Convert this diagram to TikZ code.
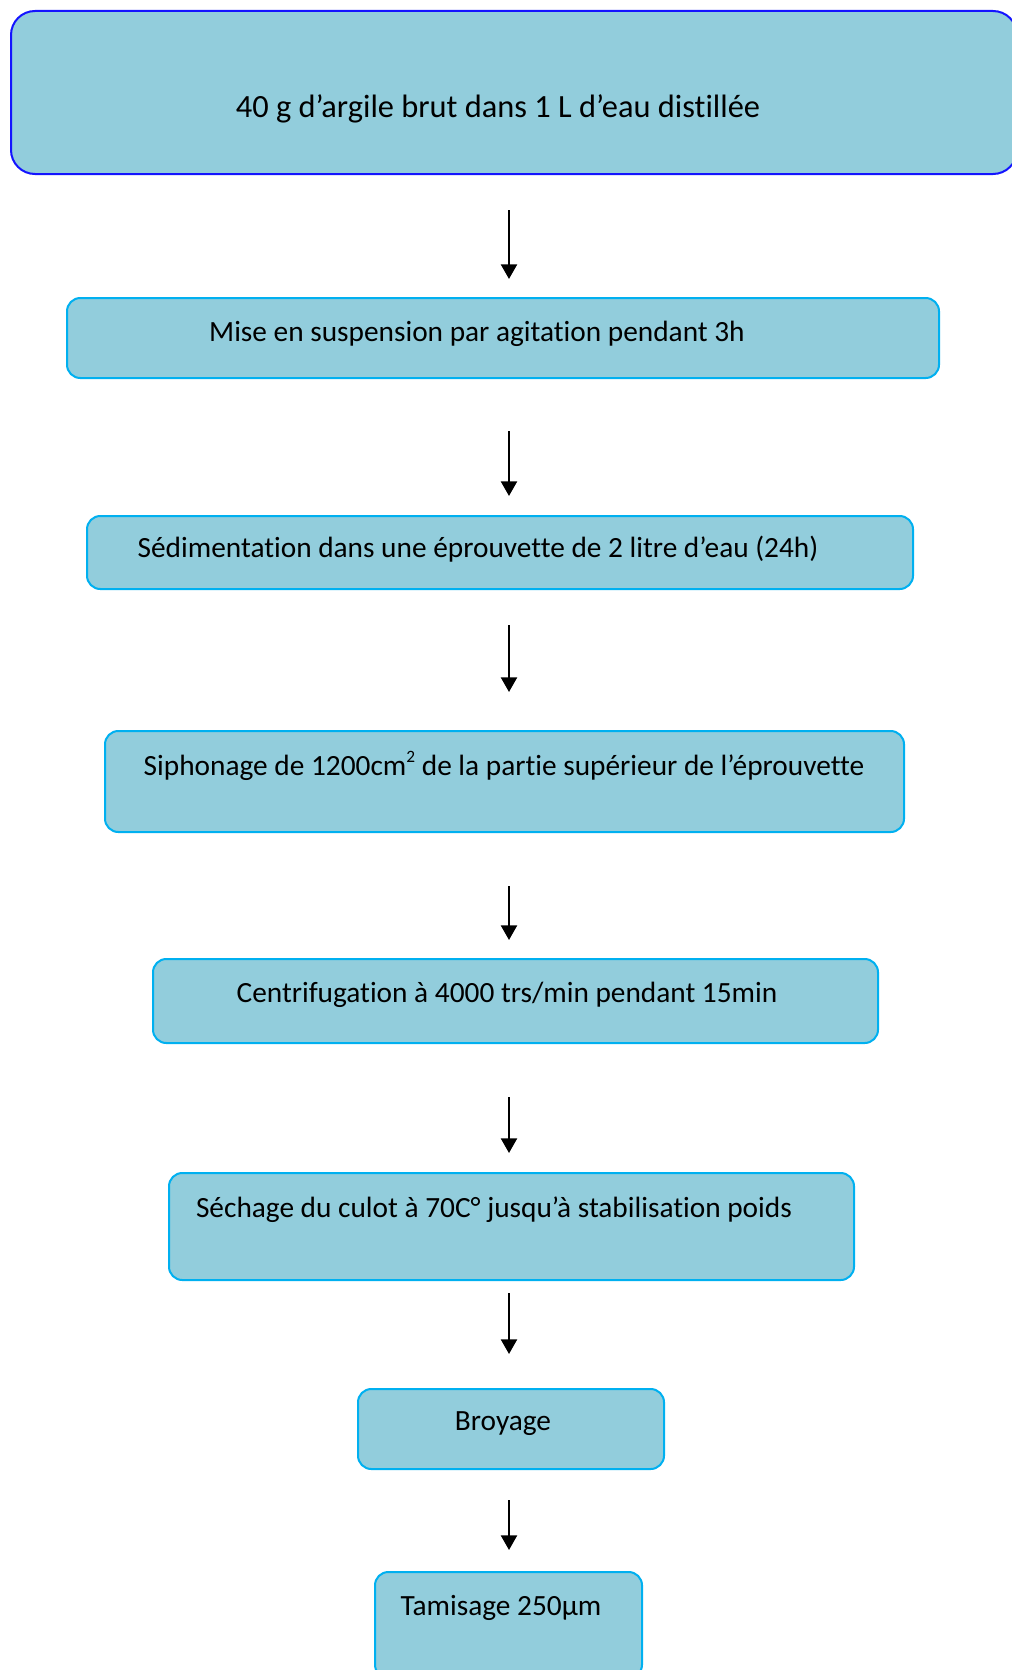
\documentclass[tikz,border=0pt]{standalone}
\usepackage{fontspec}
\setmainfont[Ligatures=NoCommon]{Carlito}
\usetikzlibrary{arrows.meta}
\definecolor{boxfill}{RGB}{146,205,220}
\definecolor{boxline}{RGB}{0,176,240}
\definecolor{topline}{RGB}{20,20,255}
\tikzset{
  stepbox/.style={draw=boxline, line width=1.5pt, fill=boxfill, rounded corners=10pt, inner sep=0pt, outer sep=0pt},
  topbox/.style={stepbox, draw=topline, rounded corners=18pt},
  lbl/.style={inner sep=0pt, font=\fontsize{22}{26}\selectfont},
  arr/.style={line width=1.75pt, -{Triangle[width=12pt,length=11pt]}}
}
\begin{document}
\begin{tikzpicture}[x=0.75pt,y=-0.75pt]
\useasboundingbox (0,0) rectangle (1012,1670);
\clip (0,0) rectangle (1012,1670);
\coordinate (ax) at (509,0);
\node[topbox, minimum width=754.5pt, minimum height=122.25pt] (b1) at (514,92.5) {};
\node[stepbox, minimum width=654pt, minimum height=60pt] (b2) at (503,338) {};
\node[stepbox, minimum width=619.5pt, minimum height=54.75pt] (b3) at (500,552.5) {};
\node[stepbox, minimum width=599.25pt, minimum height=75.75pt] (b4) at (504.5,781.5) {};
\node[stepbox, minimum width=543.75pt, minimum height=63pt] (b5) at (515.5,1001) {};
\node[stepbox, minimum width=513.75pt, minimum height=80.25pt] (b6) at (511.5,1226.5) {};
\node[stepbox, minimum width=229.5pt, minimum height=60pt] (b7) at (511,1429) {};
\node[stepbox, minimum width=200.25pt, minimum height=79.5pt] (b8) at (508.5,1625) {};

\node[lbl, font=\fontsize{24.3}{28}\selectfont] (t1) at (498,109) {40 g d’argile brut dans 1 L d’eau distillée};
\node[lbl] (t2) at (477,334) {Mise en suspension par agitation pendant 3h};
\node[lbl] (t3) at (478,549) {Sédimentation dans une éprouvette de 2 litre d’eau (24h)};
\node[lbl] (t4) at (504,766) {Siphonage de 1200cm\raisebox{0.9ex}{\fontsize{13}{13}\selectfont 2} de la partie supérieur de l’éprouvette};
\node[lbl] (t5) at (507,995) {Centrifugation à 4000 trs/min pendant 15min};
\node[lbl] (t6) at (494,1210) {Séchage du culot à 70C° jusqu’à stabilisation poids};
\node[lbl] (t7) at (503,1424) {Broyage};
\node[lbl] (t8) at (501,1608) {Tamisage 250µm};

\draw[arr, shorten <=27pt, shorten >=14.25pt] (b1.south -| ax) -- (b2.north -| ax);
\draw[arr, shorten <=39.75pt, shorten >=15pt] (b2.south -| ax) -- (b3.north -| ax);
\draw[arr, shorten <=27pt, shorten >=29.25pt] (b3.south -| ax) -- (b4.north -| ax);
\draw[arr, shorten <=40.5pt, shorten >=14.25pt] (b4.south -| ax) -- (b5.north -| ax);
\draw[arr, shorten <=40.5pt, shorten >=15pt] (b5.south -| ax) -- (b6.north -| ax);
\draw[arr, shorten <=9.75pt, shorten >=26.25pt] (b6.south -| ax) -- (b7.north -| ax);
\draw[arr, shorten <=23.25pt, shorten >=16.5pt] (b7.south -| ax) -- (b8.north -| ax);
\end{tikzpicture}
\end{document}
